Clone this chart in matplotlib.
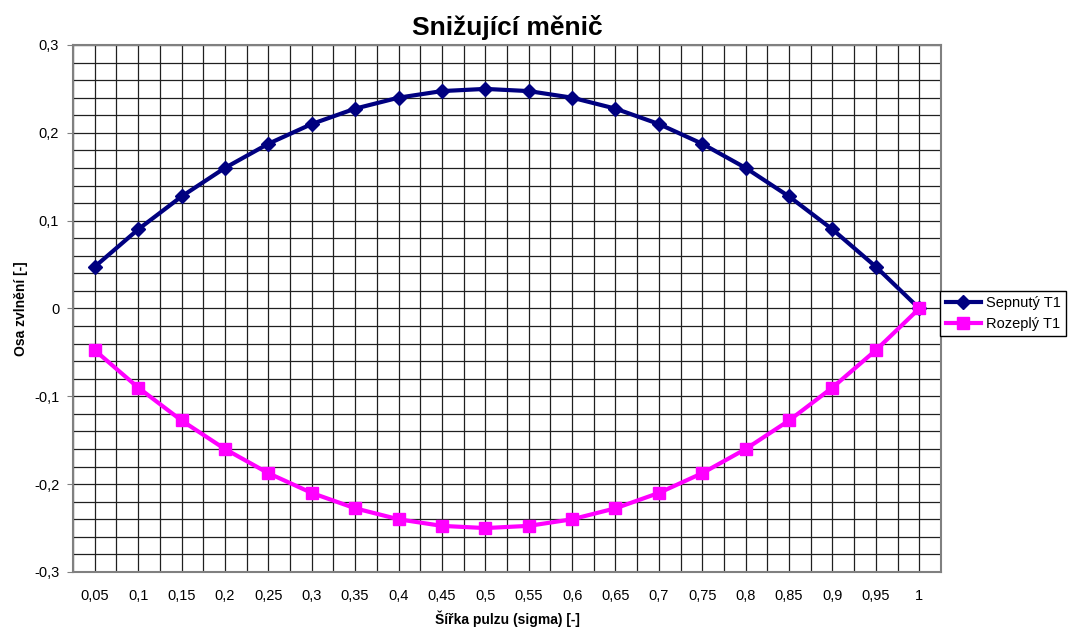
import numpy as np
import matplotlib.pyplot as plt

plt.rcParams['font.family'] = ['Liberation Sans', 'DejaVu Sans']

# data
sigma_labels = ['0,05', '0,1', '0,15', '0,2', '0,25', '0,3', '0,35', '0,4', '0,45', '0,5',
                '0,55', '0,6', '0,65', '0,7', '0,75', '0,8', '0,85', '0,9', '0,95', '1']
sepnuty = [0.0475, 0.09, 0.1275, 0.16, 0.1875, 0.21, 0.2275, 0.24, 0.2475, 0.25,
           0.2475, 0.24, 0.2275, 0.21, 0.1875, 0.16, 0.1275, 0.09, 0.0475, 0.0]
rozeply = [-0.0475, -0.09, -0.1275, -0.16, -0.1875, -0.21, -0.2275, -0.24, -0.2475, -0.25,
           -0.2475, -0.24, -0.2275, -0.21, -0.1875, -0.16, -0.1275, -0.09, -0.0475, 0.0]
y_ticks = [0.3, 0.2, 0.1, 0, -0.1, -0.2, -0.3]
y_tick_labels = ['0,3', '0,2', '0,1', '0', '-0,1', '-0,2', '-0,3']

fig = plt.figure(figsize=(10.77, 6.3), dpi=100)
ax = fig.add_axes([0.0678, 0.0921, 0.8059, 0.8365])

x = np.arange(1, len(sigma_labels) + 1)

# grid: every half category vertically, every 0.02 horizontally
for v in np.arange(0.5, len(sigma_labels) + 1, 0.5):
    ax.axvline(v, color='#202020', lw=0.9, zorder=1)
for h in np.arange(-0.3, 0.3001, 0.02):
    ax.axhline(h, color='#202020', lw=0.9, zorder=1)

ax.plot(x, sepnuty, color='#000080', lw=3, marker='D', markersize=7,
        label='Sepnutý T1', zorder=3)
ax.plot(x, rozeply, color='#FF00FF', lw=3, marker='s', markersize=9,
        label='Rozeplý T1', zorder=3)

ax.set_xlim(0.5, len(sigma_labels) + 0.5)
ax.set_ylim(-0.3, 0.3)
ax.set_xticks(x)
ax.set_xticklabels(sigma_labels, fontsize=10.5)
ax.set_yticks(y_ticks)
ax.set_yticklabels(y_tick_labels, fontsize=10.5)
ax.tick_params(axis='x', length=0, pad=12)
ax.tick_params(axis='y', length=4, color='#808080', pad=6)

for s in ax.spines.values():
    s.set_color('#808080')
    s.set_linewidth(1.5)

ax.set_title('Snižující měnič', fontsize=19, fontweight='bold', pad=7)
ax.set_xlabel('Šířka pulzu (sigma) [-]', fontsize=10, fontweight='bold', labelpad=6)
ax.set_ylabel('Osa zvlnění [-]', fontsize=10, fontweight='bold', labelpad=4)

leg = ax.legend(loc='center left', bbox_to_anchor=(0.991, 0.49), fontsize=10.5,
                frameon=True, fancybox=False, edgecolor='black', framealpha=1,
                handlelength=2.4, borderpad=0.35, labelspacing=0.5, handletextpad=0.4)
leg.get_frame().set_linewidth(1.0)

fig.savefig('out.png', dpi=100)
